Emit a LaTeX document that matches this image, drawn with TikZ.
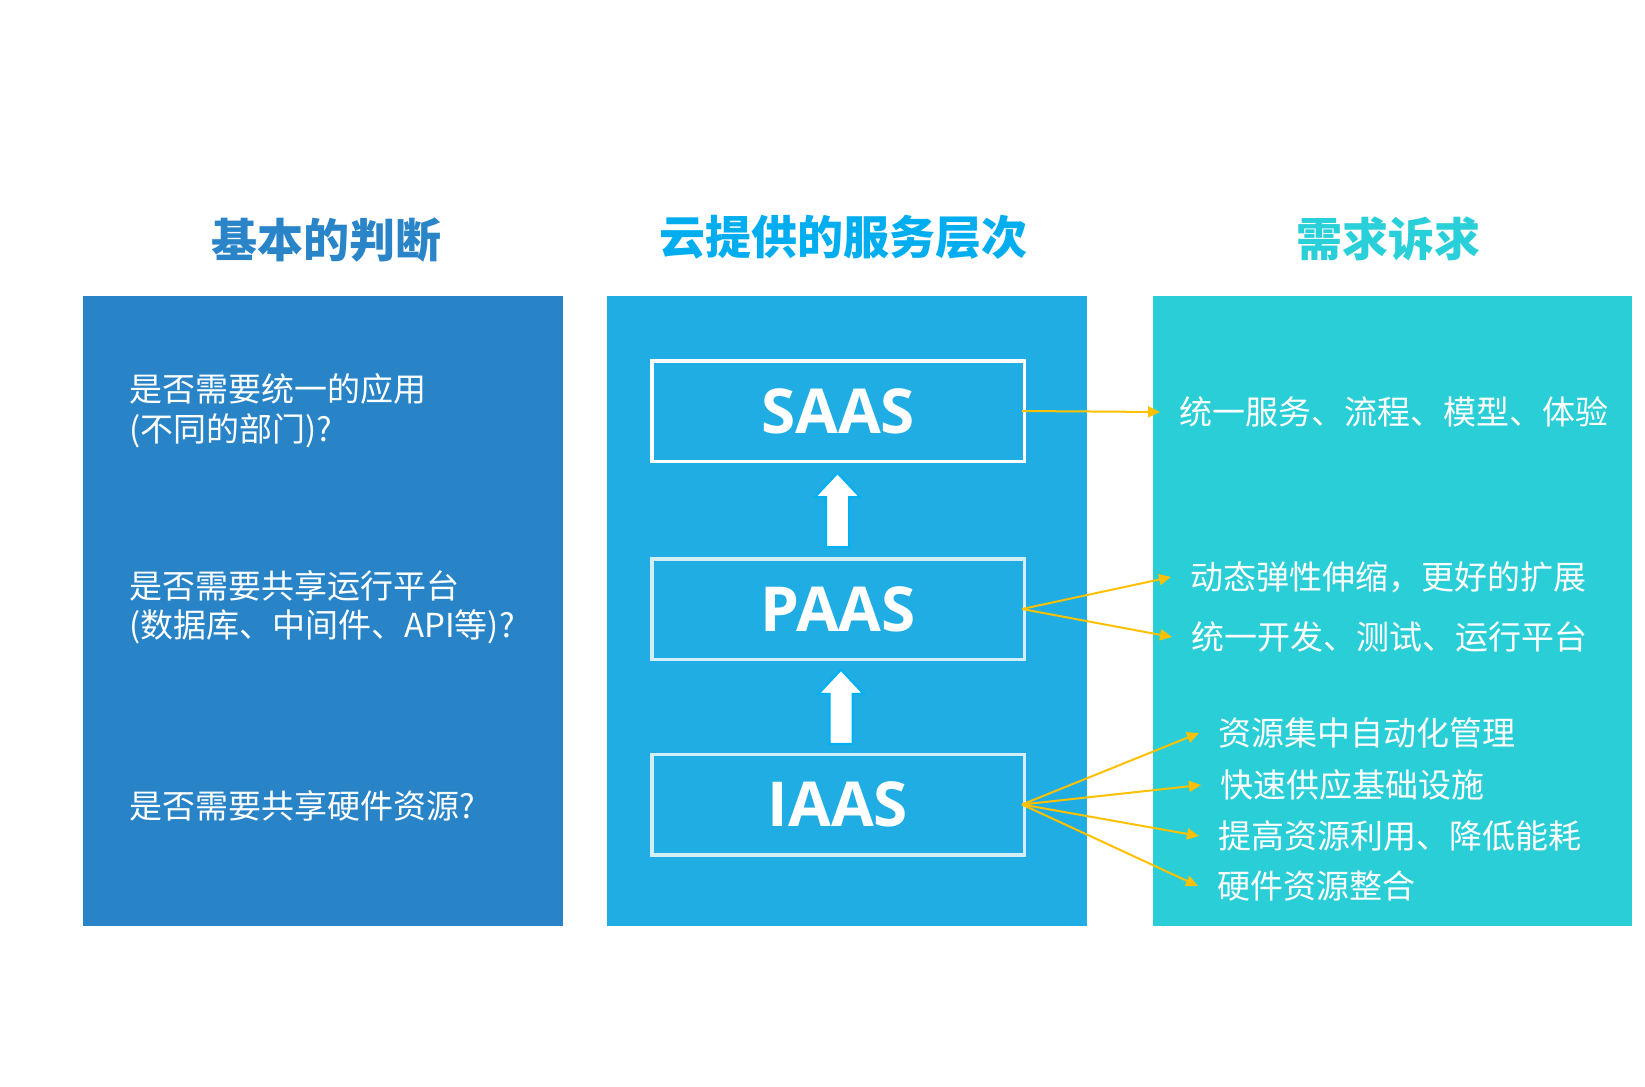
\documentclass[tikz,border=0pt]{standalone}
\usepackage{fontspec}
\newfontfamily\cjk{Noto Sans CJK SC}
\newfontfamily\latinbold{Open Sans}
\usetikzlibrary{arrows.meta,calc}

\definecolor{panelA}{HTML}{2884C7}
\definecolor{panelB}{HTML}{1FADE3}
\definecolor{panelC}{HTML}{29CED7}
\definecolor{titleA}{HTML}{2A84C8}
\definecolor{titleB}{HTML}{00AEEF}
\definecolor{titleC}{HTML}{29CFD9}
\definecolor{linkY}{HTML}{FFC000}
\definecolor{blockedge}{HTML}{00B0F0}
\definecolor{softedge}{HTML}{D4EEF9}

\tikzset{
  heading/.style={font=\cjk\bfseries\fontsize{46}{50}\selectfont, inner sep=0},
  question/.style={font=\cjk\fontsize{33}{39.5}\selectfont, text=white, align=left, anchor=west, inner sep=0},
  layerbox/.style={draw=#1, line width=3.5, minimum width=372.5, minimum height=100.5, inner sep=0,
    font=\latinbold\bfseries\fontsize{62}{62}\selectfont, text=white},
  benefit/.style={font=\cjk\fontsize{33}{36}\selectfont, text=white, anchor=west, inner xsep=19, inner ysep=0},
  link/.style={draw=linkY, line width=2, -{Triangle[length=12,width=11]}},
  uparrow/.pic={
    \filldraw[fill=white, draw=blockedge, line width=2, line join=miter]
      (0,-37) -- (22.5,-13) -- (11.5,-13) -- (11.5,37) -- (-11.5,37) -- (-11.5,-13) -- (-22.5,-13) -- cycle;
  }
}

\begin{document}
\begin{tikzpicture}[x=1pt,y=-1pt]
  % canvas
  \fill[white] (0,0) rectangle (1645,1086);
  \useasboundingbox (0,0) rectangle (1645,1086);

  % column panels
  \fill[panelA] (83,296) rectangle (563,926);
  \fill[panelB] (607,296) rectangle (1087,926);
  \fill[panelC] (1153,296) rectangle (1632,926);

  % column headings
  \node[heading, text=titleA] (hA) at (326,240) {基本的判断};
  \node[heading, text=titleB] (hB) at (843,237) {云提供的服务层次};
  \node[heading, text=titleC] (hC) at (1388,239) {需求诉求};

  % questions
  \node[question] (q1) at (129,410.5) {是否需要统一的应用\\(不同的部门)?};
  \node[question] (q2) at (129,607.5) {是否需要共享运行平台\\(数据库、中间件、API等)?};
  \node[question] (q3) at (129,805.5) {是否需要共享硬件资源?};

  % service layers
  \node[layerbox=white] (saas) at (838,411) {SAAS};
  \node[layerbox=softedge] (paas) at (838,609) {PAAS};
  \node[layerbox=softedge] (iaas) at (838,804.5) {IAAS};

  % upward block arrows between layers
  \pic at ($(saas.south)!0.5!(paas.north)+(-0.5,0)$) {uparrow};
  \pic at ($(paas.south)!0.5!(iaas.north)+(3,0)$) {uparrow};

  % benefits
  \node[benefit] (d1) at (1160,412) {统一服务、流程、模型、体验};
  \node[benefit] (d2) at (1171,577) {动态弹性伸缩，更好的扩展};
  \node[benefit] (d3) at (1172,637) {统一开发、测试、运行平台};
  \node[benefit] (d4) at (1199,733) {资源集中自动化管理};
  \node[benefit] (d5) at (1201,785) {快速供应基础设施};
  \node[benefit] (d6) at (1199,836) {提高资源利用、降低能耗};
  \node[benefit] (d7) at (1198,886) {硬件资源整合};

  % links from layers to benefits
  \coordinate (sOut) at ([xshift=-4]saas.east);
  \coordinate (pOut) at ([xshift=-4]paas.east);
  \coordinate (iOut) at ([xshift=-4]iaas.east);
  \draw[link] (sOut) -- (d1.west);
  \draw[link] (pOut) -- (d2.west);
  \draw[link] (pOut) -- (d3.west);
  \draw[link] (iOut) -- (d4.west);
  \draw[link] (iOut) -- (d5.west);
  \draw[link] (iOut) -- (d6.west);
  \draw[link] (iOut) -- (d7.west);
\end{tikzpicture}
\end{document}
